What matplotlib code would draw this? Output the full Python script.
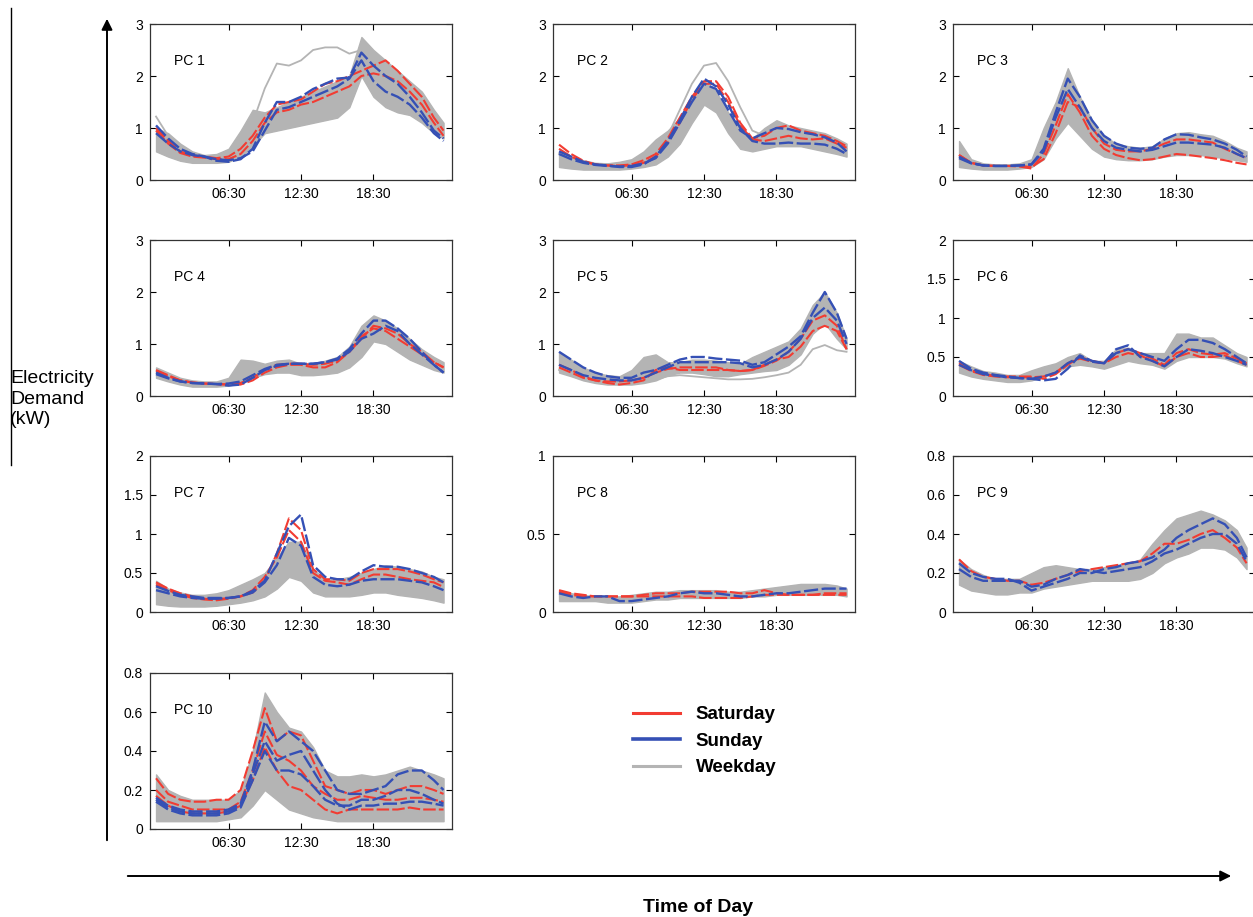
import matplotlib
matplotlib.use("Agg")
import matplotlib.pyplot as plt
from matplotlib.lines import Line2D
from matplotlib.ticker import FuncFormatter
import numpy as np

plt.rcParams['font.family'] = ['Liberation Sans', 'DejaVu Sans']

# time of day in hours (half-hour slots, sampled every hour)
HOURS = [0.5, 1.5, 2.5, 3.5, 4.5, 5.5, 6.5, 7.5, 8.5, 9.5, 10.5, 11.5, 12.5,
         13.5, 14.5, 15.5, 16.5, 17.5, 18.5, 19.5, 20.5, 21.5, 22.5, 23.5, 24.3]
TICK_HOURS = [6.5, 12.5, 18.5]
TICK_LABELS = ['06:30', '12:30', '18:30']

# ---- PC 1 ----
pc1_wk_lo = [0.55, 0.45, 0.37, 0.33, 0.33, 0.33, 0.35, 0.45, 0.65, 0.9, 0.95, 1.0, 1.05, 1.1, 1.15, 1.2, 1.4, 2.0, 1.6, 1.4, 1.3, 1.25, 1.1, 0.9, 0.8]
pc1_wk_hi = [1.0, 0.9, 0.7, 0.55, 0.48, 0.5, 0.6, 0.95, 1.35, 1.3, 1.4, 1.5, 1.6, 1.7, 1.8, 1.9, 2.0, 2.75, 2.5, 2.3, 2.1, 1.9, 1.7, 1.35, 1.1]
pc1_wk_odd = [1.22, 0.85, 0.6, 0.45, 0.4, 0.4, 0.45, 0.7, 1.1, 1.76, 2.24, 2.2, 2.3, 2.5, 2.55, 2.55, 2.43, 2.5, 2.2, 2.0, 1.8, 1.6, 1.4, 1.1, 0.9]
pc1_sat_a = [1.0, 0.75, 0.55, 0.47, 0.45, 0.42, 0.45, 0.6, 0.85, 1.2, 1.45, 1.5, 1.55, 1.7, 1.85, 1.9, 2.0, 2.1, 2.2, 2.3, 2.1, 1.85, 1.6, 1.2, 0.95]
pc1_sat_b = [0.95, 0.7, 0.52, 0.45, 0.43, 0.4, 0.4, 0.5, 0.75, 1.1, 1.3, 1.35, 1.45, 1.5, 1.6, 1.7, 1.8, 2.0, 2.05, 2.0, 1.9, 1.7, 1.45, 1.1, 0.85]
pc1_sun_a = [1.05, 0.8, 0.6, 0.5, 0.45, 0.37, 0.35, 0.4, 0.6, 1.1, 1.5, 1.5, 1.6, 1.75, 1.85, 1.95, 1.97, 2.45, 2.2, 2.0, 1.85, 1.6, 1.3, 0.95, 0.8]
pc1_sun_b = [0.9, 0.7, 0.55, 0.48, 0.45, 0.4, 0.38, 0.42, 0.55, 0.95, 1.35, 1.4, 1.5, 1.6, 1.7, 1.8, 1.95, 2.3, 1.9, 1.7, 1.6, 1.45, 1.2, 0.9, 0.75]

# ---- PC 2 ----
pc2_wk_lo = [0.25, 0.22, 0.2, 0.2, 0.2, 0.2, 0.22, 0.25, 0.3, 0.45, 0.7, 1.1, 1.45, 1.3, 0.9, 0.6, 0.55, 0.6, 0.65, 0.65, 0.65, 0.6, 0.55, 0.5, 0.45]
pc2_wk_hi = [0.55, 0.45, 0.38, 0.33, 0.32, 0.35, 0.4, 0.55, 0.78, 0.95, 1.2, 1.6, 1.9, 1.7, 1.3, 1.0, 0.8, 1.0, 1.15, 1.05, 1.0, 0.95, 0.9, 0.8, 0.7]
pc2_wk_odd = [0.5, 0.42, 0.35, 0.3, 0.3, 0.3, 0.35, 0.45, 0.6, 0.85, 1.35, 1.85, 2.2, 2.25, 1.9, 1.4, 0.95, 0.85, 0.9, 0.9, 0.85, 0.8, 0.75, 0.7, 0.6]
pc2_sat_a = [0.68, 0.5, 0.37, 0.3, 0.28, 0.28, 0.3, 0.38, 0.5, 0.8, 1.2, 1.6, 1.9, 1.9, 1.6, 1.1, 0.8, 0.85, 1.0, 1.05, 0.95, 0.9, 0.85, 0.75, 0.65]
pc2_sat_b = [0.6, 0.45, 0.35, 0.3, 0.28, 0.27, 0.28, 0.33, 0.45, 0.72, 1.1, 1.55, 1.85, 1.85, 1.5, 1.05, 0.78, 0.75, 0.8, 0.85, 0.8, 0.78, 0.8, 0.7, 0.62]
pc2_sun_a = [0.55, 0.45, 0.35, 0.3, 0.28, 0.25, 0.25, 0.3, 0.45, 0.75, 1.15, 1.6, 1.95, 1.8, 1.45, 1.0, 0.75, 0.7, 0.7, 0.72, 0.7, 0.7, 0.68, 0.6, 0.5]
pc2_sun_b = [0.5, 0.4, 0.33, 0.29, 0.27, 0.26, 0.27, 0.32, 0.42, 0.7, 1.1, 1.5, 1.85, 1.75, 1.35, 0.95, 0.8, 0.9, 1.0, 0.98, 0.92, 0.88, 0.82, 0.72, 0.55]

# ---- PC 3 ----
pc3_wk_lo = [0.25, 0.22, 0.2, 0.2, 0.2, 0.22, 0.25, 0.4, 0.8, 1.1, 0.85, 0.6, 0.45, 0.4, 0.38, 0.38, 0.4, 0.45, 0.48, 0.48, 0.48, 0.45, 0.42, 0.38, 0.35]
pc3_wk_hi = [0.75, 0.4, 0.32, 0.3, 0.3, 0.32, 0.4, 1.0, 1.5, 2.15, 1.6, 1.15, 0.85, 0.7, 0.65, 0.62, 0.65, 0.8, 0.9, 0.92, 0.88, 0.85, 0.75, 0.62, 0.55]
pc3_sat_a = [0.48, 0.33, 0.28, 0.27, 0.27, 0.26, 0.22, 0.5, 1.05, 1.65, 1.3, 0.85, 0.6, 0.48, 0.42, 0.38, 0.4, 0.45, 0.5, 0.48, 0.45, 0.42, 0.38, 0.33, 0.3]
pc3_sat_b = [0.48, 0.33, 0.28, 0.27, 0.27, 0.27, 0.25, 0.4, 0.9, 1.5, 1.4, 1.0, 0.7, 0.58, 0.55, 0.55, 0.6, 0.7, 0.78, 0.78, 0.75, 0.72, 0.6, 0.5, 0.42]
pc3_sun_a = [0.45, 0.33, 0.28, 0.27, 0.27, 0.28, 0.3, 0.6, 1.3, 1.95, 1.6, 1.15, 0.85, 0.7, 0.62, 0.6, 0.62, 0.78, 0.88, 0.87, 0.82, 0.78, 0.7, 0.58, 0.45]
pc3_sun_b = [0.42, 0.32, 0.28, 0.27, 0.27, 0.28, 0.3, 0.55, 1.2, 1.75, 1.4, 1.0, 0.75, 0.62, 0.58, 0.55, 0.58, 0.65, 0.72, 0.72, 0.7, 0.68, 0.62, 0.5, 0.42]

# ---- PC 4 ----
pc4_wk_lo = [0.35, 0.28, 0.22, 0.18, 0.18, 0.18, 0.2, 0.25, 0.35, 0.42, 0.45, 0.45, 0.4, 0.4, 0.42, 0.45, 0.55, 0.75, 1.05, 1.0, 0.85, 0.7, 0.6, 0.5, 0.45]
pc4_wk_hi = [0.55, 0.45, 0.35, 0.3, 0.28, 0.28, 0.35, 0.7, 0.68, 0.62, 0.68, 0.7, 0.62, 0.62, 0.68, 0.75, 0.95, 1.35, 1.55, 1.45, 1.3, 1.1, 0.9, 0.75, 0.65]
pc4_sat_a = [0.5, 0.4, 0.3, 0.26, 0.24, 0.23, 0.22, 0.25, 0.35, 0.5, 0.6, 0.62, 0.62, 0.6, 0.62, 0.68, 0.85, 1.1, 1.35, 1.3, 1.2, 1.0, 0.85, 0.65, 0.55]
pc4_sat_b = [0.48, 0.38, 0.3, 0.26, 0.24, 0.23, 0.22, 0.22, 0.3, 0.45, 0.55, 0.6, 0.6, 0.55, 0.55, 0.65, 0.85, 1.15, 1.3, 1.25, 1.1, 0.95, 0.8, 0.65, 0.55]
pc4_sun_a = [0.45, 0.35, 0.28, 0.25, 0.24, 0.23, 0.2, 0.22, 0.35, 0.5, 0.58, 0.62, 0.62, 0.62, 0.65, 0.7, 0.85, 1.1, 1.2, 1.35, 1.25, 1.0, 0.8, 0.6, 0.45]
pc4_sun_b = [0.42, 0.34, 0.28, 0.25, 0.24, 0.23, 0.24, 0.28, 0.4, 0.52, 0.6, 0.62, 0.62, 0.62, 0.65, 0.72, 0.9, 1.2, 1.45, 1.45, 1.3, 1.1, 0.85, 0.6, 0.45]

# ---- PC 5 ----
pc5_wk_lo = [0.45, 0.38, 0.3, 0.25, 0.22, 0.22, 0.22, 0.25, 0.3, 0.4, 0.45, 0.45, 0.42, 0.38, 0.38, 0.42, 0.45, 0.48, 0.5, 0.6, 0.8, 1.2, 1.4, 1.1, 0.9]
pc5_wk_hi = [0.85, 0.7, 0.55, 0.45, 0.4, 0.38, 0.5, 0.75, 0.8, 0.65, 0.65, 0.7, 0.7, 0.68, 0.65, 0.62, 0.75, 0.85, 0.95, 1.05, 1.3, 1.75, 2.0, 1.6, 1.1]
pc5_wk_odd = [0.5, 0.4, 0.32, 0.28, 0.25, 0.24, 0.24, 0.28, 0.32, 0.38, 0.4, 0.38, 0.36, 0.34, 0.32, 0.32, 0.33, 0.36, 0.4, 0.45, 0.6, 0.9, 0.98, 0.88, 0.85]
pc5_sat_a = [0.6, 0.5, 0.38, 0.3, 0.25, 0.22, 0.25, 0.3, 0.5, 0.55, 0.5, 0.5, 0.5, 0.5, 0.5, 0.48, 0.5, 0.6, 0.7, 0.75, 0.95, 1.25, 1.35, 1.25, 0.9]
pc5_sat_b = [0.55, 0.45, 0.35, 0.3, 0.28, 0.28, 0.3, 0.35, 0.45, 0.52, 0.55, 0.55, 0.55, 0.55, 0.5, 0.48, 0.5, 0.58, 0.68, 0.85, 1.1, 1.45, 1.55, 1.35, 0.9]
pc5_sun_a = [0.85, 0.7, 0.55, 0.45, 0.38, 0.35, 0.35, 0.45, 0.5, 0.6, 0.7, 0.75, 0.75, 0.72, 0.7, 0.68, 0.6, 0.65, 0.8, 0.95, 1.15, 1.6, 2.0, 1.6, 1.1]
pc5_sun_b = [0.6, 0.5, 0.4, 0.35, 0.32, 0.3, 0.3, 0.35, 0.45, 0.55, 0.65, 0.65, 0.65, 0.65, 0.65, 0.63, 0.55, 0.6, 0.7, 0.85, 1.1, 1.5, 1.7, 1.45, 1.0]

# ---- PC 6 ----
pc6_wk_lo = [0.3, 0.25, 0.22, 0.2, 0.18, 0.18, 0.2, 0.25, 0.3, 0.38, 0.4, 0.38, 0.35, 0.4, 0.45, 0.42, 0.4, 0.35, 0.45, 0.5, 0.5, 0.5, 0.48, 0.42, 0.38]
pc6_wk_hi = [0.45, 0.38, 0.32, 0.3, 0.27, 0.27, 0.33, 0.38, 0.42, 0.5, 0.55, 0.45, 0.45, 0.6, 0.62, 0.55, 0.55, 0.55, 0.8, 0.8, 0.75, 0.75, 0.65, 0.55, 0.5]
pc6_sat_a = [0.42, 0.33, 0.28, 0.26, 0.25, 0.25, 0.25, 0.22, 0.28, 0.4, 0.5, 0.45, 0.42, 0.55, 0.6, 0.55, 0.48, 0.4, 0.55, 0.6, 0.55, 0.53, 0.55, 0.48, 0.42]
pc6_sat_b = [0.4, 0.32, 0.27, 0.25, 0.24, 0.24, 0.24, 0.25, 0.3, 0.42, 0.48, 0.44, 0.42, 0.5, 0.55, 0.52, 0.45, 0.38, 0.5, 0.55, 0.5, 0.5, 0.52, 0.45, 0.4]
pc6_sun_a = [0.45, 0.35, 0.3, 0.27, 0.25, 0.23, 0.22, 0.2, 0.22, 0.35, 0.52, 0.45, 0.42, 0.6, 0.65, 0.5, 0.45, 0.38, 0.5, 0.6, 0.58, 0.55, 0.5, 0.45, 0.4]
pc6_sun_b = [0.4, 0.33, 0.28, 0.26, 0.24, 0.23, 0.22, 0.25, 0.3, 0.42, 0.5, 0.44, 0.42, 0.55, 0.6, 0.55, 0.5, 0.45, 0.6, 0.72, 0.72, 0.68, 0.6, 0.5, 0.42]

# ---- PC 7 ----
pc7_wk_lo = [0.1, 0.08, 0.07, 0.07, 0.07, 0.08, 0.1, 0.12, 0.15, 0.2, 0.3, 0.45, 0.4, 0.25, 0.2, 0.2, 0.2, 0.22, 0.25, 0.25, 0.22, 0.2, 0.18, 0.15, 0.12]
pc7_wk_hi = [0.4, 0.3, 0.25, 0.22, 0.22, 0.24, 0.28, 0.35, 0.42, 0.5, 0.7, 0.9, 0.9, 0.55, 0.42, 0.42, 0.45, 0.5, 0.55, 0.6, 0.58, 0.55, 0.52, 0.45, 0.42]
pc7_sat_a = [0.38, 0.3, 0.24, 0.2, 0.17, 0.16, 0.18, 0.2, 0.25, 0.4, 0.75, 1.2, 1.05, 0.55, 0.42, 0.42, 0.4, 0.5, 0.55, 0.55, 0.55, 0.52, 0.48, 0.42, 0.38]
pc7_sat_b = [0.35, 0.28, 0.22, 0.18, 0.16, 0.15, 0.17, 0.2, 0.28, 0.45, 0.7, 1.05, 0.9, 0.5, 0.4, 0.38, 0.35, 0.42, 0.48, 0.48, 0.45, 0.42, 0.4, 0.38, 0.32]
pc7_sun_a = [0.33, 0.27, 0.22, 0.2, 0.18, 0.18, 0.18, 0.2, 0.27, 0.4, 0.75, 1.1, 1.25, 0.6, 0.45, 0.42, 0.42, 0.52, 0.6, 0.58, 0.58, 0.55, 0.5, 0.45, 0.38]
pc7_sun_b = [0.28, 0.24, 0.2, 0.18, 0.17, 0.17, 0.18, 0.2, 0.25, 0.38, 0.6, 0.95, 0.85, 0.45, 0.35, 0.33, 0.35, 0.4, 0.42, 0.42, 0.42, 0.4, 0.38, 0.33, 0.28]

# ---- PC 8 ----
pc8_wk_lo = [0.07, 0.07, 0.07, 0.07, 0.06, 0.06, 0.06, 0.07, 0.08, 0.08, 0.09, 0.09, 0.09, 0.09, 0.09, 0.09, 0.1, 0.1, 0.11, 0.11, 0.11, 0.11, 0.11, 0.11, 0.1]
pc8_wk_hi = [0.14, 0.12, 0.11, 0.1, 0.1, 0.1, 0.11, 0.12, 0.13, 0.13, 0.14, 0.14, 0.14, 0.14, 0.13, 0.13, 0.14, 0.15, 0.16, 0.17, 0.18, 0.18, 0.18, 0.17, 0.15]
pc8_sat_a = [0.14, 0.12, 0.11, 0.1, 0.1, 0.1, 0.1, 0.11, 0.12, 0.12, 0.12, 0.13, 0.13, 0.13, 0.13, 0.12, 0.12, 0.14, 0.12, 0.11, 0.11, 0.11, 0.11, 0.11, 0.11]
pc8_sat_b = [0.13, 0.11, 0.1, 0.1, 0.1, 0.1, 0.1, 0.1, 0.1, 0.1, 0.1, 0.1, 0.09, 0.09, 0.09, 0.09, 0.1, 0.11, 0.11, 0.11, 0.11, 0.11, 0.12, 0.12, 0.12]
pc8_sun_a = [0.12, 0.1, 0.09, 0.1, 0.1, 0.07, 0.07, 0.08, 0.09, 0.1, 0.12, 0.13, 0.12, 0.12, 0.11, 0.1, 0.1, 0.11, 0.12, 0.12, 0.13, 0.14, 0.15, 0.15, 0.15]

# ---- PC 9 ----
pc9_wk_lo = [0.14, 0.11, 0.1, 0.09, 0.09, 0.1, 0.1, 0.12, 0.13, 0.14, 0.15, 0.16, 0.16, 0.16, 0.16, 0.17, 0.2, 0.25, 0.28, 0.3, 0.33, 0.33, 0.32, 0.28, 0.22]
pc9_wk_hi = [0.27, 0.22, 0.19, 0.17, 0.17, 0.17, 0.2, 0.23, 0.24, 0.23, 0.22, 0.22, 0.23, 0.24, 0.25, 0.27, 0.35, 0.42, 0.48, 0.5, 0.52, 0.5, 0.47, 0.42, 0.33]
pc9_sat_a = [0.27, 0.21, 0.18, 0.17, 0.16, 0.16, 0.14, 0.15, 0.17, 0.19, 0.21, 0.22, 0.23, 0.24, 0.25, 0.26, 0.3, 0.35, 0.35, 0.37, 0.4, 0.42, 0.38, 0.33, 0.25]
pc9_sun_a = [0.25, 0.2, 0.18, 0.17, 0.17, 0.15, 0.11, 0.13, 0.15, 0.17, 0.2, 0.2, 0.22, 0.23, 0.25, 0.26, 0.28, 0.32, 0.38, 0.42, 0.45, 0.48, 0.45, 0.38, 0.28]
pc9_sun_b = [0.22, 0.18, 0.16, 0.16, 0.16, 0.16, 0.13, 0.14, 0.17, 0.19, 0.22, 0.21, 0.2, 0.21, 0.22, 0.23, 0.26, 0.3, 0.32, 0.35, 0.38, 0.4, 0.4, 0.35, 0.26]

# ---- PC 10 ----
pc10_wk_lo = [0.04, 0.04, 0.04, 0.04, 0.04, 0.04, 0.05, 0.06, 0.12, 0.2, 0.15, 0.1, 0.08, 0.06, 0.05, 0.04, 0.04, 0.04, 0.04, 0.04, 0.04, 0.04, 0.04, 0.04, 0.04]
pc10_wk_hi = [0.28, 0.2, 0.17, 0.15, 0.15, 0.15, 0.15, 0.2, 0.4, 0.7, 0.6, 0.52, 0.5, 0.42, 0.3, 0.27, 0.27, 0.28, 0.27, 0.28, 0.3, 0.32, 0.3, 0.28, 0.26]
pc10_sat_a = [0.26, 0.18, 0.15, 0.14, 0.14, 0.15, 0.15, 0.2, 0.4, 0.62, 0.45, 0.5, 0.48, 0.35, 0.22, 0.2, 0.18, 0.2, 0.2, 0.18, 0.2, 0.22, 0.22, 0.2, 0.18]
pc10_sat_b = [0.2, 0.14, 0.12, 0.1, 0.1, 0.1, 0.1, 0.14, 0.3, 0.5, 0.38, 0.35, 0.3, 0.22, 0.18, 0.15, 0.15, 0.17, 0.16, 0.15, 0.15, 0.16, 0.16, 0.15, 0.14]
pc10_sat_c = [0.17, 0.12, 0.09, 0.08, 0.08, 0.08, 0.09, 0.12, 0.25, 0.42, 0.3, 0.22, 0.2, 0.15, 0.1, 0.08, 0.1, 0.1, 0.1, 0.1, 0.1, 0.11, 0.1, 0.1, 0.1]
pc10_sun_a = [0.16, 0.12, 0.1, 0.09, 0.09, 0.09, 0.1, 0.13, 0.3, 0.55, 0.45, 0.5, 0.45, 0.4, 0.3, 0.2, 0.18, 0.18, 0.2, 0.22, 0.28, 0.3, 0.3, 0.25, 0.2]
pc10_sun_b = [0.14, 0.1, 0.08, 0.07, 0.07, 0.07, 0.08, 0.11, 0.25, 0.4, 0.3, 0.3, 0.28, 0.22, 0.15, 0.12, 0.12, 0.15, 0.15, 0.17, 0.2, 0.2, 0.18, 0.15, 0.13]
pc10_sun_c = [0.15, 0.11, 0.09, 0.08, 0.08, 0.08, 0.09, 0.12, 0.28, 0.45, 0.35, 0.38, 0.4, 0.3, 0.2, 0.13, 0.1, 0.12, 0.12, 0.13, 0.13, 0.14, 0.14, 0.13, 0.12]

# y axis ranges / ticks per panel
YMAX = [3, 3, 3, 3, 3, 2, 2, 1, 0.8, 0.8]
YTICKS = [[0, 1, 2, 3]] * 5 + [[0, 0.5, 1, 1.5, 2]] * 2 + [[0, 0.5, 1]] + [[0, 0.2, 0.4, 0.6, 0.8]] * 2

panels = [
    (pc1_wk_lo, pc1_wk_hi, [pc1_wk_odd], [pc1_sat_a, pc1_sat_b], [pc1_sun_a, pc1_sun_b]),
    (pc2_wk_lo, pc2_wk_hi, [pc2_wk_odd], [pc2_sat_a, pc2_sat_b], [pc2_sun_a, pc2_sun_b]),
    (pc3_wk_lo, pc3_wk_hi, [], [pc3_sat_a, pc3_sat_b], [pc3_sun_a, pc3_sun_b]),
    (pc4_wk_lo, pc4_wk_hi, [], [pc4_sat_a, pc4_sat_b], [pc4_sun_a, pc4_sun_b]),
    (pc5_wk_lo, pc5_wk_hi, [pc5_wk_odd], [pc5_sat_a, pc5_sat_b], [pc5_sun_a, pc5_sun_b]),
    (pc6_wk_lo, pc6_wk_hi, [], [pc6_sat_a, pc6_sat_b], [pc6_sun_a, pc6_sun_b]),
    (pc7_wk_lo, pc7_wk_hi, [], [pc7_sat_a, pc7_sat_b], [pc7_sun_a, pc7_sun_b]),
    (pc8_wk_lo, pc8_wk_hi, [], [pc8_sat_a, pc8_sat_b], [pc8_sun_a]),
    (pc9_wk_lo, pc9_wk_hi, [], [pc9_sat_a], [pc9_sun_a, pc9_sun_b]),
    (pc10_wk_lo, pc10_wk_hi, [], [pc10_sat_a, pc10_sat_b, pc10_sat_c], [pc10_sun_a, pc10_sun_b, pc10_sun_c]),
]

RED = '#f23c32'
BLUE = '#3550b5'
GRAY = '#b4b4b4'

W, H = 1253, 917
fig = plt.figure(figsize=(W / 100, H / 100), dpi=100)

col_left = [150, 553, 953]
row_top = [24, 240, 456, 673]
ax_w, ax_h = 302, 156

fmt = FuncFormatter(lambda v, p: '%g' % v)
x = np.array(HOURS)

for i, (lo, hi, odd, sats, suns) in enumerate(panels):
    r, c = divmod(i, 3)
    ax = fig.add_axes([col_left[c] / W, 1 - (row_top[r] + ax_h) / H, ax_w / W, ax_h / H])
    ax.fill_between(x, lo, hi, color=GRAY, lw=1.0, edgecolor=GRAY)
    for s in odd:
        ax.plot(x, s, color=GRAY, lw=1.3)
    for s in sats:
        ax.plot(x, s, color=RED, lw=1.5, ls=(0, (6, 1.5)))
    for s in suns:
        ax.plot(x, s, color=BLUE, lw=1.7, ls=(0, (6, 1.5)))
    ax.set_xlim(0, 25)
    ax.set_ylim(0, YMAX[i])
    ax.set_xticks(TICK_HOURS)
    ax.set_xticklabels(TICK_LABELS)
    ax.set_yticks(YTICKS[i])
    ax.yaxis.set_major_formatter(fmt)
    ax.tick_params(direction='in', top=True, right=True, length=4, width=0.8,
                   labelsize=10, pad=5)
    for sp in ax.spines.values():
        sp.set_linewidth(0.9)
        sp.set_color('#333333')
    ax.text(0.08, 0.76, 'PC %d' % (i + 1), transform=ax.transAxes,
            fontsize=10, va='center', ha='left')

# big axis arrows
fig.add_artist(Line2D([11 / W, 11 / W], [1 - 8 / H, 1 - 465 / H], color='black', lw=1.0))
plt.annotate('', xy=(107, H - 16), xytext=(107, H - 843), xycoords='figure pixels',
             textcoords='figure pixels',
             arrowprops=dict(arrowstyle='-|>', lw=1.4, color='black', mutation_scale=16))
plt.annotate('', xy=(1234, H - 876), xytext=(125, H - 876), xycoords='figure pixels',
             textcoords='figure pixels',
             arrowprops=dict(arrowstyle='-|>', lw=1.4, color='black', mutation_scale=16))

fig.text(10 / W, 1 - 399 / H, 'Electricity\nDemand\n(kW)', fontsize=14,
         ha='left', va='center', linespacing=1.3)
fig.text(698 / W, 1 - 907 / H, 'Time of Day', fontsize=14, fontweight='bold',
         ha='center', va='center')

handles = [Line2D([], [], color=RED, lw=2.2),
           Line2D([], [], color=BLUE, lw=2.6),
           Line2D([], [], color=GRAY, lw=2.2)]
fig.legend(handles, ['Saturday', 'Sunday', 'Weekday'], loc='upper left',
           bbox_to_anchor=(633 / W, 1 - 706 / H), frameon=False, borderpad=0,
           borderaxespad=0, handlelength=2.5, handletextpad=0.85, labelspacing=0.5,
           prop={'size': 13.5, 'weight': 'bold'})

fig.savefig('out.png', dpi=100)
